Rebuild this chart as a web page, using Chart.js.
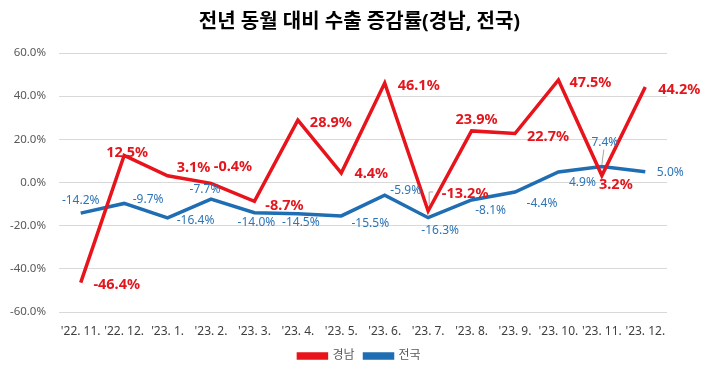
<!DOCTYPE html>
<html><head><meta charset="utf-8">
<script src="https://cdn.jsdelivr.net/npm/chart.js@4/dist/chart.umd.min.js"></script>
<style>html,body{margin:0;padding:0;background:#fff;}#wrap{width:719px;height:378px;}</style>
</head><body><div id="wrap"><canvas id="c" width="719" height="378"></canvas></div>
<script>
const categories = ["'22. 11.", "'22. 12.", "'23. 1.", "'23. 2.", "'23. 3.", "'23. 4.", "'23. 5.", "'23. 6.", "'23. 7.", "'23. 8.", "'23. 9.", "'23. 10.", "'23. 11.", "'23. 12."];
const gyeongnam = [-46.4, 12.5, 3.1, -0.4, -8.7, 28.9, 4.4, 46.1, -13.2, 23.9, 22.7, 47.5, 3.2, 44.2];
const national = [-14.2, -9.7, -16.4, -7.7, -14.0, -14.5, -15.5, -5.9, -16.3, -8.1, -4.4, 4.9, 7.4, 5.0];
const yTicks = [-60, -40, -20, 0, 20, 40, 60];
const seriesNames = ["경남", "전국"];
const titleText = "전년 동월 대비 수출 증감률(경남, 전국)";

// label placement offsets (pixels relative to the point)
const redOffsets = [[36,2],[3,-3],[26,-8],[22,-16],[30,5],[33,3],[30,1],[34,3],[37,-17],[5,-11],[33,3],[32,3],[14,9],[34,3]];
const blueOffsets = [[0,-13],[24,-4],[28,3],[-6,-10],[2,10],[3,9],[29,8],[21,-5],[12,13],[19,11],[27,12],[24,11],[3,-24],[25,1]];

const RED = '#E3161D', BLUE = '#1F6DB3';
const FONT = "'Noto Sans', 'Noto Sans CJK KR', sans-serif";

const labelPlugin = {
  id: 'valueLabels',
  afterDatasetsDraw(chart) {
    const ctx = chart.ctx;
    ctx.save();
    ctx.textAlign = 'center';
    ctx.textBaseline = 'middle';
    const mR = chart.getDatasetMeta(0).data, mB = chart.getDatasetMeta(1).data;
    ctx.strokeStyle = '#A6A6A6'; ctx.lineWidth = 1;
    ctx.beginPath();
    ctx.moveTo(mB[12].x + 2, mB[12].y - 17); ctx.lineTo(mB[12].x, mB[12].y - 2);
    ctx.moveTo(mR[8].x + 5, mR[8].y - 19); ctx.lineTo(mR[8].x + 1, mR[8].y - 19); ctx.lineTo(mR[8].x + 1, mR[8].y - 6);
    ctx.stroke();
    const specs = [
      {i: 0, offs: redOffsets, font: "bold 14.5px " + FONT, color: RED, data: gyeongnam},
      {i: 1, offs: blueOffsets, font: "12px " + FONT, color: '#2E75B6', data: national}
    ];
    specs.forEach(s => {
      const meta = chart.getDatasetMeta(s.i);
      ctx.font = s.font; ctx.fillStyle = s.color;
      meta.data.forEach((pt, k) => {
        const o = s.offs[k];
        ctx.fillText(s.data[k].toFixed(1) + '%', pt.x + o[0], pt.y + o[1]);
      });
    });
    ctx.restore();
  }
};

new Chart(document.getElementById('c'), {
  type: 'line',
  data: {
    labels: categories,
    datasets: [
      {label: seriesNames[0], data: gyeongnam, borderColor: '#E8141B', backgroundColor: '#E8141B', borderWidth: 3.5, pointRadius: 0, tension: 0},
      {label: seriesNames[1], data: national, borderColor: BLUE, backgroundColor: BLUE, borderWidth: 3.5, pointRadius: 0, tension: 0}
    ]
  },
  options: {
    responsive: false,
    animation: false,
    devicePixelRatio: 1,
    layout: {padding: {left: 0, right: 0, top: 0, bottom: 6}},
    plugins: {
      title: {display: true, text: titleText, color: '#000', font: {family: FONT, size: 20, weight: 'bold'}, padding: {top: 10, bottom: 19}},
      legend: {position: 'bottom', labels: {boxWidth: 28, boxHeight: 4, color: '#595959', font: {family: FONT, size: 12}, padding: 10}},
      tooltip: {enabled: false}
    },
    scales: {
      x: {
        offset: true,
        grid: {display: false},
        border: {display: false},
        ticks: {color: '#404040', font: {family: FONT, size: 12}, maxRotation: 0, autoSkip: false, padding: 4},
        afterFit(s) { s.height = 28; }
      },
      y: {
        min: -60, max: 60,
        border: {display: false},
        grid: {color: '#D9D9D9', drawTicks: false},
        afterBuildTicks(s) { s.ticks = yTicks.map(v => ({value: v})); },
        ticks: {color: '#595959', font: {family: FONT, size: 11.5}, padding: 13, callback: v => v.toFixed(1) + '%'},
        afterFit(s) { s.width = 59; }
      },
      yRight: {
        position: 'right',
        min: -60, max: 60,
        border: {display: false},
        grid: {display: false},
        ticks: {display: false},
        afterFit(s) { s.width = 52; }
      }
    }
  },
  plugins: [labelPlugin]
});
</script></body></html>
